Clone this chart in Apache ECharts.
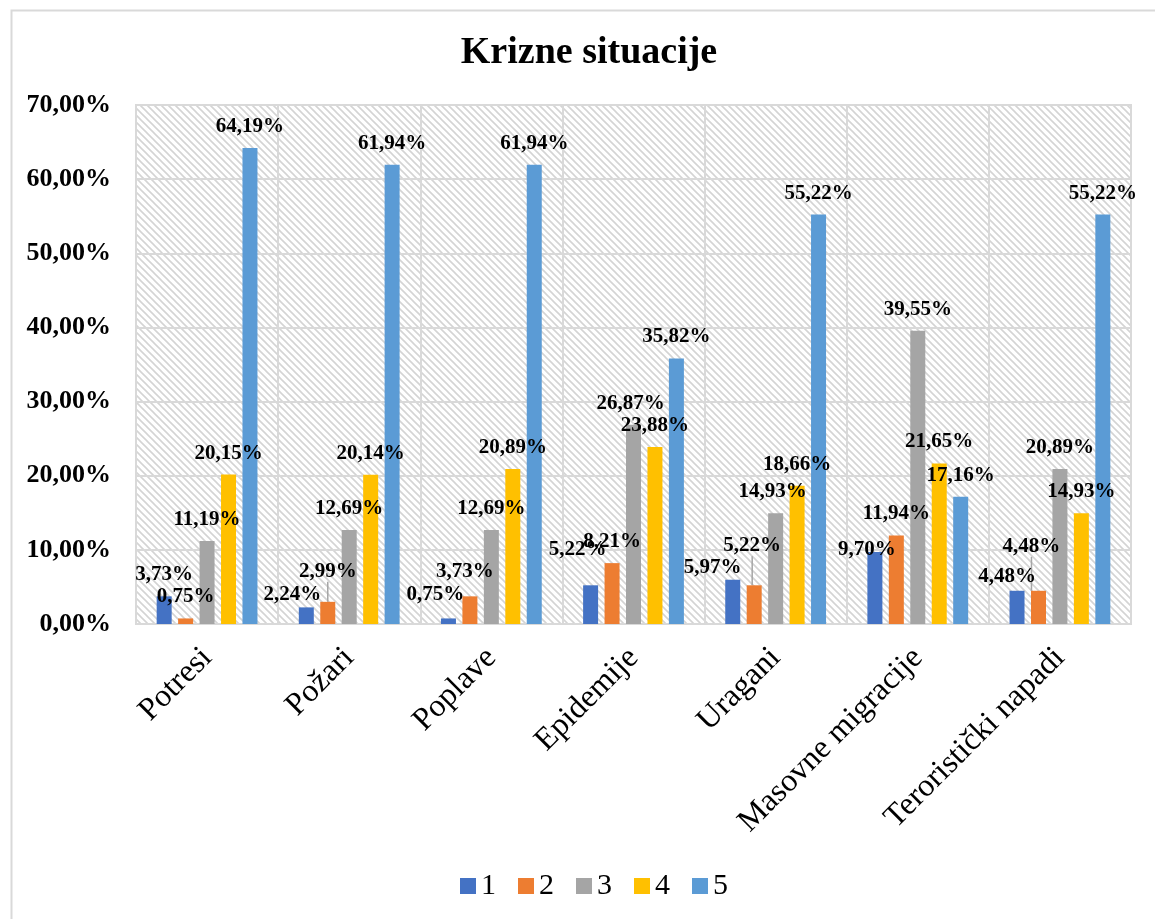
<!DOCTYPE html>
<html>
<head>
<meta charset="utf-8">
<script src="https://cdn.jsdelivr.net/npm/echarts@6/dist/echarts.min.js"></script>
<style>
html,body{margin:0;padding:0;background:#fff;}
#chart{width:1155px;height:919px;}
</style>
</head>
<body>
<div id="chart"></div>
<script>
// ---- data ----
const categories = ['Potresi', 'Požari', 'Poplave', 'Epidemije', 'Uragani', 'Masovne migracije', 'Teroristički napadi'];
const seriesNames = ['1', '2', '3', '4', '5'];
const s1 = [3.73, 2.24, 0.75, 5.22, 5.97, 9.70, 4.48];
const s2 = [0.75, 2.99, 3.73, 8.21, 5.22, 11.94, 4.48];
const s3 = [11.19, 12.69, 12.69, 26.87, 14.93, 39.55, 20.89];
const s4 = [20.15, 20.14, 20.89, 23.88, 18.66, 21.65, 14.93];
const s5 = [64.19, 61.94, 61.94, 35.82, 55.22, 17.16, 55.22];
const yTicks = { min: 0, max: 70, interval: 10 };

// ---- style ----
const colors = ['#4472C4', '#ED7D31', '#A5A5A5', '#FFC000', '#5B9BD5'];
const FONT = '"Liberation Serif", "Times New Roman", serif';
// label nudges [seriesIndex, categoryIndex, dx, dy, leaderLine]
const nudges = [
  [0, 1, -14, 9, false], [1, 1, 0, -9, true],
  [0, 2, -13, -2, false], [1, 2, -5, -3, false],
  [0, 3, -13, -14, false], [2, 3, -3, 0, false],
  [0, 4, -20, 9, false], [1, 4, -2, -18, true], [2, 4, -3, 0, false],
  [0, 5, -8, 19, false],
  [0, 6, -10, 7, false], [1, 6, -7, -23, true]
];
function nudgeFor(si, ci) {
  return nudges.find(n => n[0] === si && n[1] === ci);
}

function hatch() {
  const n = 7;
  const c = document.createElement('canvas');
  c.width = n; c.height = n;
  const g = c.getContext('2d');
  g.fillStyle = '#ffffff';
  g.fillRect(0, 0, n, n);
  g.strokeStyle = '#d4d4d4';
  g.lineWidth = 1.6;
  g.beginPath();
  g.moveTo(-1, -1); g.lineTo(n + 1, n + 1);
  g.moveTo(-1, n - 1); g.lineTo(1, n + 1);
  g.moveTo(n - 1, -1); g.lineTo(n + 1, 1);
  g.stroke();
  return c;
}

const fmt = v => v.toFixed(2).replace('.', ',') + '%';
const all = [s1, s2, s3, s4, s5];

const series = all.map((arr, si) => ({
  name: seriesNames[si],
  type: 'bar',
  barWidth: 15,
  barGap: '43%',
  itemStyle: { color: colors[si] },
  data: arr.map((v, ci) => {
    const nd = nudgeFor(si, ci);
    const item = { value: v };
    if (nd && nd[4]) item.labelLine = { show: true, lineStyle: { color: '#a6a6a6', width: 1.5 } };
    return item;
  }),
  label: {
    show: true,
    position: 'top',
    distance: 11,
    formatter: p => fmt(p.value),
    fontFamily: FONT,
    fontWeight: 'bold',
    fontSize: 21,
    color: '#000'
  },
  labelLine: { show: false },
  labelLayout: params => {
    const nd = nudgeFor(params.seriesIndex, params.dataIndex);
    return nd ? { dx: nd[2], dy: nd[3] } : {};
  },
  z: 2
}));

const chart = echarts.init(document.getElementById('chart'), null, { renderer: 'canvas' });
chart.setOption({
  animation: false,
  backgroundColor: '#fff',
  title: {
    text: 'Krizne situacije',
    left: 584, top: 29,
    textAlign: 'center',
    textStyle: { fontFamily: FONT, fontWeight: 'bold', fontSize: 38, color: '#000' }
  },
  graphic: [{
    type: 'rect', left: 9, top: 8, silent: true,
    shape: { width: 1160, height: 920 },
    style: { fill: 'none', stroke: '#d9d9d9', lineWidth: 2 }
  }],
  legend: {
    bottom: 13, left: 455,
    itemWidth: 16, itemHeight: 16, itemGap: 22,
    icon: 'rect',
    textStyle: { fontFamily: FONT, fontSize: 30, color: '#000' },
    data: seriesNames
  },
  grid: {
    left: 136, right: 24, top: 105, bottom: 295,
    show: true,
    backgroundColor: { image: hatch(), repeat: 'repeat' },
    borderColor: '#d9d9d9', borderWidth: 2
  },
  xAxis: {
    type: 'category',
    data: categories,
    axisLine: { show: false },
    axisTick: { show: false },
    splitLine: { show: true, lineStyle: { color: '#d9d9d9', width: 2 } },
    axisLabel: {
      rotate: 45, interval: 0, margin: 29,
      fontFamily: FONT, fontSize: 32, color: '#000'
    }
  },
  yAxis: {
    type: 'value',
    min: yTicks.min, max: yTicks.max, interval: yTicks.interval,
    axisLine: { show: false },
    axisTick: { show: false },
    splitLine: { show: true, lineStyle: { color: '#d9d9d9', width: 2 } },
    axisLabel: {
      margin: 25,
      formatter: v => fmt(v),
      fontFamily: FONT, fontWeight: 'bold', fontSize: 26, color: '#000'
    }
  },
  series: series
});
</script>
</body>
</html>
